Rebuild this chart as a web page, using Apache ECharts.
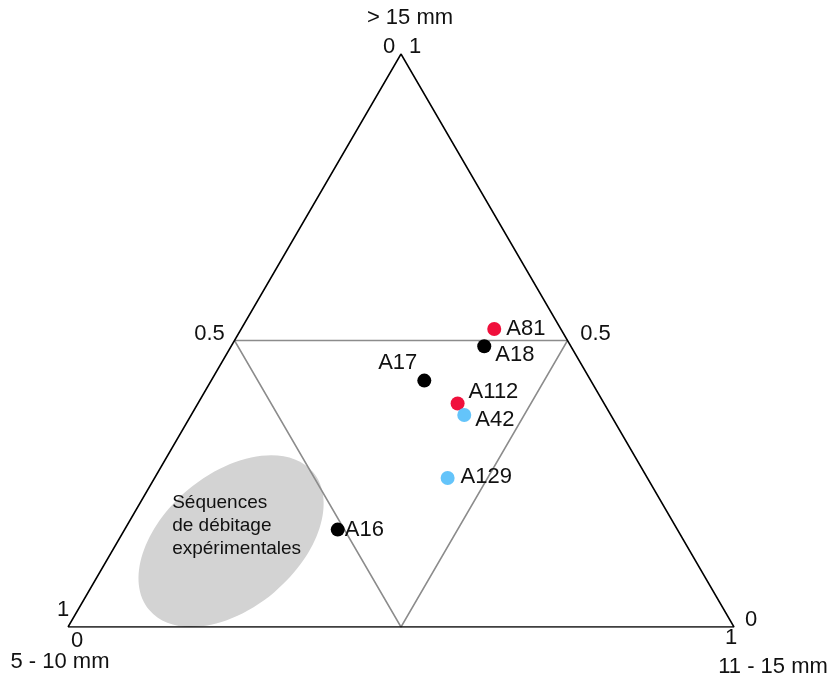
<!DOCTYPE html>
<html>
<head>
<meta charset="utf-8">
<script src="https://cdn.jsdelivr.net/npm/echarts@6/dist/echarts.min.js"></script>
<style>
  html, body { margin: 0; padding: 0; background: #fff; }
  #chart { width: 831px; height: 677px; }
</style>
</head>
<body>
<div id="chart"></div>
<script>
// ternary data: [> 15 mm, 5 - 10 mm, 11 - 15 mm]
const sampleNames  = ['A81', 'A18', 'A17', 'A112', 'A42', 'A129', 'A16'];
const sampleGroups = ['red', 'black', 'black', 'red', 'blue', 'blue', 'black'];
const sampleComp   = [
  [0.52, 0.10, 0.38],
  [0.49, 0.13, 0.38],
  [0.43, 0.25, 0.32],
  [0.39, 0.22, 0.39],
  [0.37, 0.22, 0.41],
  [0.26, 0.30, 0.44],
  [0.17, 0.51, 0.32],
];

// zone des séquences expérimentales (centre)
const zoneCentre = [0.15, 0.68, 0.17];
const zoneText   = 'Séquences\nde débitage\nexpérimentales';

// axes
const axisTitles = ['> 15 mm', '5 - 10 mm', '11 - 15 mm'];
const vertexTicks = [['0', '1'], ['1', '0'], ['0', '1']];
const midTick = '0.5';

const COLORS = { red: '#f0103c', black: '#000000', blue: '#64c4fa' };
const FONT = '"Liberation Sans", Arial, sans-serif';
const TEXT = '#111111';

// ternary -> cartesian (x: 0..1, y: 0..1)
const toXY = ([a, b, c]) => [c + a / 2, a];

const TOP = toXY([1, 0, 0]);
const LEFT = toXY([0, 1, 0]);
const RIGHT = toXY([0, 0, 1]);
const MID_L = toXY([0.5, 0.5, 0]);
const MID_R = toXY([0.5, 0, 0.5]);
const MID_B = toXY([0, 0.5, 0.5]);

// label placement (px offsets from each anchor)
const pointLabelPos = {
  A81:  { align: 'left',  offset: [12, 0] },
  A18:  { align: 'left',  offset: [11, 9] },
  A17:  { align: 'right', offset: [-7, -18] },
  A112: { align: 'left',  offset: [11, -12] },
  A42:  { align: 'left',  offset: [11, 5] },
  A129: { align: 'left',  offset: [13, -1] },
  A16:  { align: 'left',  offset: [7, 0] },
};

const lbl = (pos, text, offset) => ({
  value: pos,
  label: { show: true, position: 'inside', formatter: text, offset,
           align: 'center', verticalAlign: 'middle' },
});

const axisLabelData = [
  lbl(TOP, axisTitles[0], [9, -36]),
  lbl(TOP, vertexTicks[0][0], [-12, -7]),
  lbl(TOP, vertexTicks[0][1], [14, -7]),
  lbl(LEFT, axisTitles[1], [-8, 35]),
  lbl(LEFT, vertexTicks[1][0], [-5, -17]),
  lbl(LEFT, vertexTicks[1][1], [9, 14]),
  lbl(RIGHT, axisTitles[2], [39, 40]),
  lbl(RIGHT, vertexTicks[2][0], [17, -7]),
  lbl(RIGHT, vertexTicks[2][1], [-3, 11]),
  lbl(MID_L, midTick, [-25, -7]),
  lbl(MID_R, midTick, [28, -7]),
];

const pointData = sampleNames.map((name, i) => ({
  name,
  value: toXY(sampleComp[i]),
  itemStyle: { color: COLORS[sampleGroups[i]], opacity: 1 },
  label: {
    show: true, position: 'inside', formatter: name,
    align: pointLabelPos[name].align, verticalAlign: 'middle',
    offset: pointLabelPos[name].offset,
  },
}));

const chart = echarts.init(document.getElementById('chart'), null, { renderer: 'canvas' });

chart.setOption({
  backgroundColor: '#ffffff',
  animation: false,
  textStyle: { fontFamily: FONT },
  grid: { left: 68, top: 54, right: 97, bottom: 50 },
  xAxis: { type: 'value', min: 0, max: 1, show: false },
  yAxis: { type: 'value', min: 0, max: 1, show: false },
  series: [
    {
      // zone grisée
      type: 'custom',
      z: 1,
      silent: true,
      data: [toXY(zoneCentre)],
      renderItem(params, api) {
        const p = api.coord([api.value(0), api.value(1)]);
        return {
          type: 'group',
          children: [
            {
              type: 'ellipse',
              x: p[0], y: p[1],
              rotation: 0.70,
              shape: { cx: 0, cy: 0, rx: 107, ry: 67 },
              style: { fill: '#d3d3d3' },
            },
            {
              type: 'text',
              x: p[0] - 59, y: p[1] - 50,
              style: {
                text: zoneText, fill: TEXT,
                font: '19px ' + FONT, lineHeight: 23,
                textAlign: 'left', textVerticalAlign: 'top',
              },
            },
          ],
        };
      },
    },
    {
      // triangle intérieur
      type: 'line',
      z: 2,
      data: [MID_L, MID_R, MID_B, MID_L],
      symbol: 'none',
      lineStyle: { color: '#8c8c8c', width: 1.5 },
      silent: true,
    },
    {
      // triangle extérieur
      type: 'line',
      z: 3,
      data: [LEFT, TOP, RIGHT, LEFT],
      symbol: 'none',
      lineStyle: { color: '#000000', width: 1.5 },
      silent: true,
    },
    {
      type: 'scatter',
      z: 4,
      symbolSize: 0,
      data: axisLabelData,
      itemStyle: { opacity: 1 },
      label: { color: TEXT, fontSize: 22, fontFamily: FONT },
      silent: true,
    },
    {
      type: 'scatter',
      z: 5,
      symbolSize: 14,
      data: pointData,
      itemStyle: { opacity: 1 },
      label: { color: TEXT, fontSize: 22, fontFamily: FONT },
    },
  ],
});
</script>
</body>
</html>
